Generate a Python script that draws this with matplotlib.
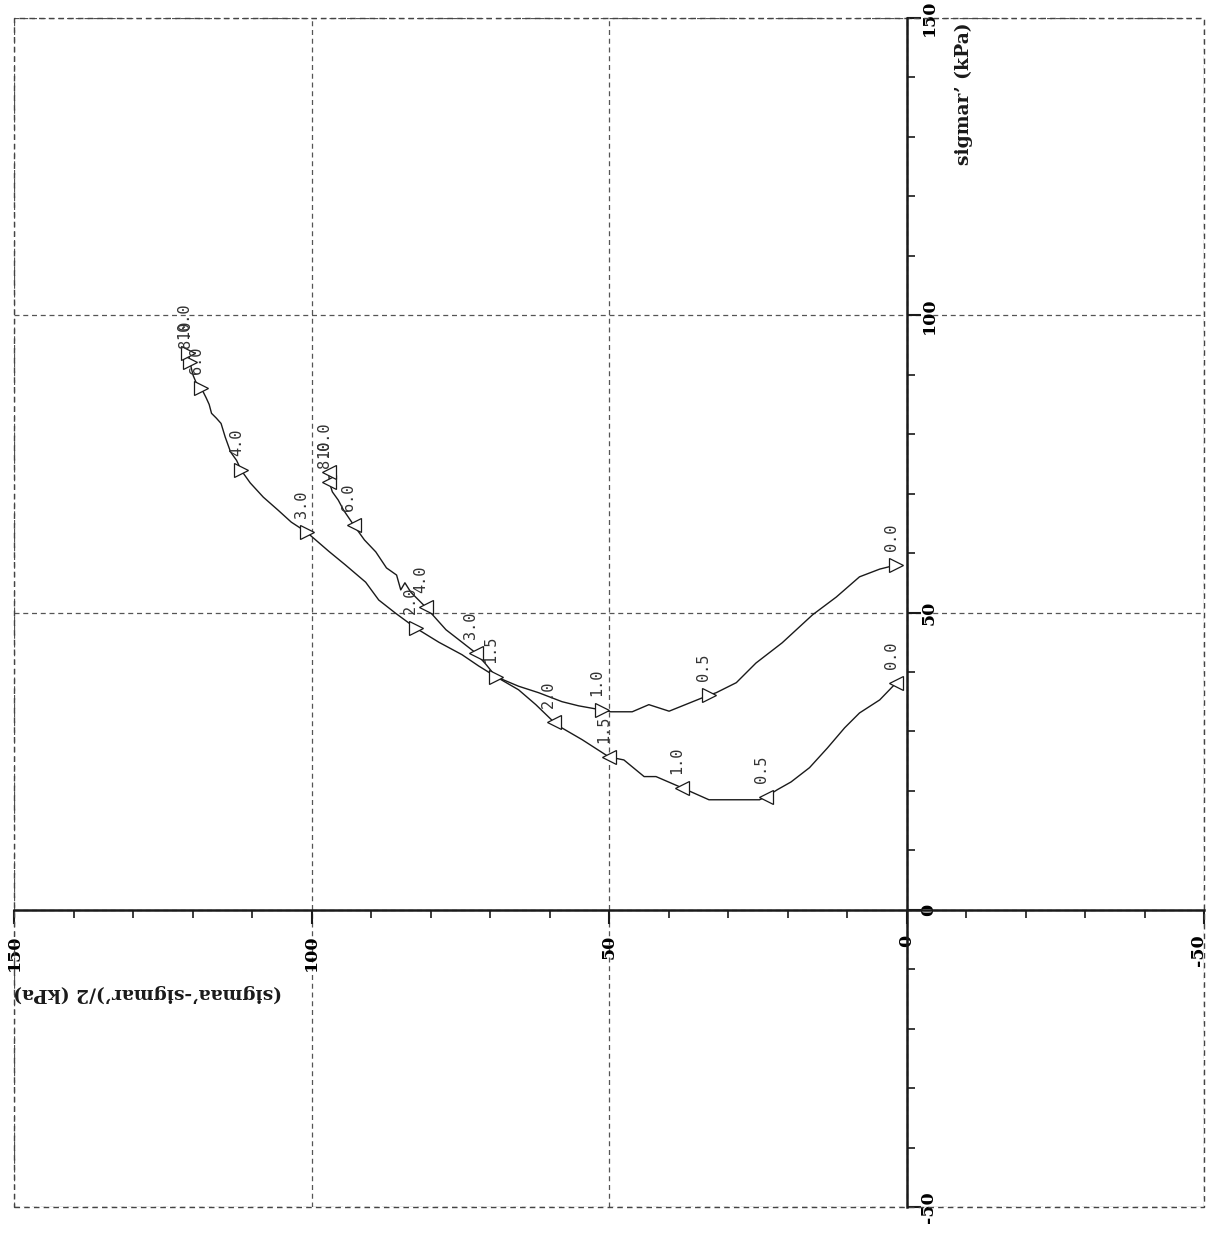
import matplotlib
matplotlib.use("Agg")
import matplotlib.pyplot as plt
from matplotlib.patches import Rectangle
from matplotlib.ticker import MultipleLocator
from matplotlib.transforms import ScaledTranslation

plt.rcParams["axes.unicode_minus"] = False

# ---- stress path, test A (deviator half-stress q, radial effective stress s) ----
path_a_q = [1.7, 4.5, 7.9, 11.8, 15.8, 20.9, 25.3, 28.6, 32.0, 33.2, 39.9, 43.3, 46.1,
            49.7, 51.2, 55.1, 57.9, 61.8, 65.2, 69.0, 71.9, 74.7, 78.6, 82.5, 85.9,
            88.7, 90.9, 94.3, 97.1, 100.8, 103.4, 105.6, 108.1, 110.3, 111.8, 112.6,
            113.6, 114.5, 115.2, 116.0, 116.8, 117.2, 117.7, 118.5, 119.4, 119.9,
            120.2, 120.4, 120.7]
path_a_s = [58.0, 57.3, 56.0, 52.6, 49.6, 44.9, 41.5, 38.2, 36.5, 36.1, 33.4, 34.5, 33.3,
            33.3, 33.6, 34.3, 35.0, 36.5, 37.6, 39.2, 41.0, 42.9, 45.0, 47.4, 49.9,
            52.1, 55.1, 58.0, 60.3, 63.5, 65.2, 67.2, 69.4, 71.8, 73.9, 75.6,
            77.0, 79.5, 81.8, 82.7, 83.5, 85.0, 86.1, 87.7, 88.7, 89.9,
            91.1, 92.1, 93.6]

# ---- stress path, test B ----
path_b_q = [1.7, 4.5, 7.9, 10.4, 13.3, 16.3, 19.4, 21.7, 23.6, 24.7, 28.1, 33.2, 37.7,
            42.1, 44.1, 47.5, 50.0, 54.5, 58.8, 59.3, 62.3, 65.2, 69.0, 70.7, 72.4,
            74.7, 77.4, 80.8, 83.3, 84.3, 85.0, 85.7, 87.4, 89.2, 91.1, 92.9, 94.6,
            95.5, 96.5, 97.0, 97.1]
path_b_s = [38.2, 35.3, 33.1, 30.6, 27.2, 23.9, 21.5, 20.2, 19.0, 18.5, 18.5, 18.5, 20.5,
            22.4, 22.4, 25.2, 25.7, 28.6, 31.1, 31.6, 34.5, 37.0, 39.2, 41.3, 43.2,
            45.0, 47.1, 50.9, 53.4, 55.0, 53.8, 56.3, 57.5, 60.2, 62.2, 64.7, 67.2,
            68.9, 70.3, 71.9, 73.6]

# ---- axial strain (%) markers along each path ----
strain_labels = ["0.0", "0.5", "1.0", "1.5", "2.0", "3.0", "4.0", "6.0", "8.0", "10.0"]
mark_a_q = [1.7, 33.2, 51.2, 69.0, 82.5, 100.8, 111.8, 118.5, 120.4, 120.7]
mark_a_s = [58.0, 36.1, 33.6, 39.2, 47.4, 63.5, 73.9, 87.7, 92.1, 93.6]
mark_b_q = [1.7, 23.6, 37.7, 50.0, 59.3, 72.4, 80.8, 92.9, 97.0, 97.1]
mark_b_s = [38.2, 19.0, 20.5, 25.7, 31.6, 43.2, 50.9, 64.7, 71.9, 73.6]

x_title = "(sigmaa’-sigmar’)/2 (kPa)"
y_title = "sigmar’ (kPa)"

W, H = 1210, 1236
fig = plt.figure(figsize=(W / 100, H / 100), dpi=100)
left, right, top, bottom = 14, 1204, 18, 1207
ax = fig.add_axes([left / W, (H - bottom) / H, (right - left) / W, (bottom - top) / H])

ax.set_xlim(150, -50)
ax.set_ylim(-50, 150)

ink = "#1a1a1a"
grid_kw = dict(color="#555555", lw=0.9, ls=(0, (4, 3)))

# dashed outer frame
ax.add_patch(Rectangle((0, 0), 1, 1, transform=ax.transAxes, fill=False,
                       edgecolor="#444444", lw=1.0, ls=(0, (4, 3)), clip_on=False))
for s in ["top", "left"]:
    ax.spines[s].set_visible(False)

# axes through the origin
ax.spines["bottom"].set_position(("data", 0))
ax.spines["right"].set_position(("data", 0))
ax.spines["bottom"].set_linewidth(1.8)
ax.spines["right"].set_linewidth(1.8)
ax.spines["bottom"].set_color(ink)
ax.spines["right"].set_color(ink)
ax.yaxis.tick_right()

ax.xaxis.set_major_locator(MultipleLocator(50))
ax.xaxis.set_minor_locator(MultipleLocator(10))
ax.yaxis.set_major_locator(MultipleLocator(50))
ax.yaxis.set_minor_locator(MultipleLocator(10))
ax.grid(True, which="major", **grid_kw)
ax.set_axisbelow(True)

ax.tick_params(which="major", direction="out", length=10, width=1.5, color=ink)
ax.tick_params(which="minor", direction="out", length=6, width=1.2, color=ink)
ax.tick_params(axis="x", which="major", pad=8)
ax.tick_params(axis="y", which="major", pad=0)

tick_font = dict(family="DejaVu Serif", weight="bold", size=12.5)
fig.canvas.draw()
xlabels = ax.get_xticklabels()
for lab in xlabels:
    lab.set_rotation(90)
    lab.set_ha("center")
    lab.set_va("top")
    lab.set(**tick_font)
# keep the label at the right-hand edge inside the figure
for tick in ax.xaxis.get_major_ticks():
    if abs(tick.get_loc() - (-50)) < 1e-9:
        tick.label1.set_transform(tick.label1.get_transform()
                                  + ScaledTranslation(-6 / 100, 0, fig.dpi_scale_trans))
for lab in ax.get_yticklabels():
    lab.set_rotation(90)
    lab.set_ha("left")
    lab.set_va("center")
    lab.set(**tick_font)

# stress paths
ax.plot(path_a_q, path_a_s, color=ink, lw=1.0, zorder=3)
ax.plot(path_b_q, path_b_s, color=ink, lw=1.0, zorder=3)
ax.plot(mark_a_q, mark_a_s, ls="none", marker=">", ms=10, mfc="white", mec=ink,
        mew=0.9, zorder=4)
ax.plot(mark_b_q, mark_b_s, ls="none", marker="<", ms=10, mfc="white", mec=ink,
        mew=0.9, zorder=4)

lab_kw = dict(textcoords="offset pixels", rotation=90, rotation_mode="anchor",
              ha="left", va="center", fontsize=11, color="#333333",
              family="DejaVu Sans Mono", zorder=5)
for txt, q, s in zip(strain_labels, mark_a_q, mark_a_s):
    ax.annotate(txt, (q, s), xytext=(-5, 14), **lab_kw)
for txt, q, s in zip(strain_labels, mark_b_q, mark_b_s):
    ax.annotate(txt, (q, s), xytext=(-5, 14), **lab_kw)

# axis titles
title_font = dict(family="DejaVu Serif", weight="bold", size=13.5, color=ink)
ax.text(-9.6, 137.3, y_title, rotation=90, ha="center", va="center", **title_font)
ax.text(127.5, -14.0, x_title, rotation=180, ha="center", va="center", **title_font)

fig.savefig("out.png", dpi=100, facecolor="white")
